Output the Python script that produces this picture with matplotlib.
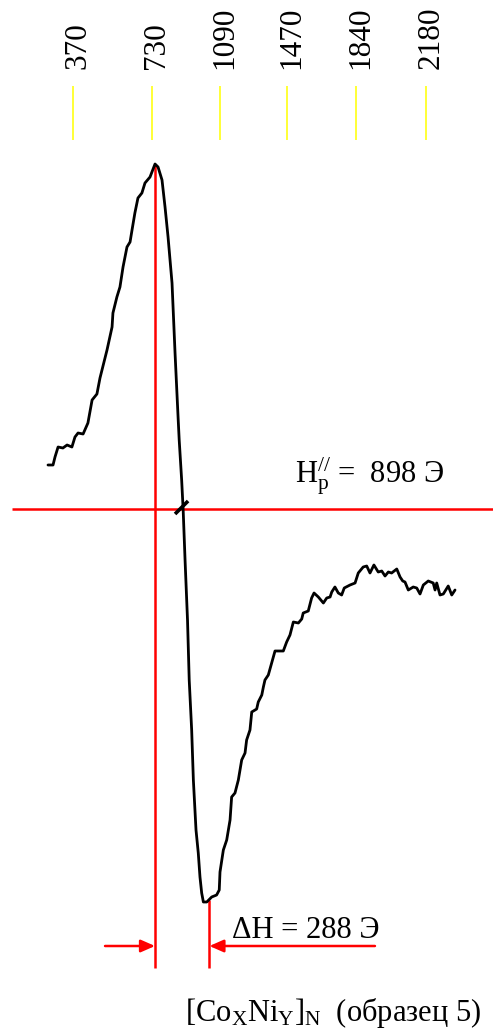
import numpy as np
import matplotlib
matplotlib.use("Agg")
import matplotlib.pyplot as plt
from matplotlib.scale import FuncScale

plt.rcParams['font.family'] = ['Liberation Serif', 'DejaVu Serif']
plt.rcParams['mathtext.fontset'] = 'custom'
plt.rcParams['mathtext.rm'] = 'Liberation Serif'
plt.rcParams['mathtext.it'] = 'Liberation Serif:italic'
plt.rcParams['mathtext.bf'] = 'Liberation Serif:bold'

# ---- data ----
tick_fields = [370, 730, 1090, 1470, 1840, 2180]
tick_labels = ["370", "730", "1090", "1470", "1840", "2180"]

field = [256, 279, 288, 302, 324, 343, 365, 379, 393, 416, 438, 457, 479, 493,
         525, 548, 552, 570, 584, 598, 616, 630, 639, 652, 666, 684, 698, 721,
         746, 762, 783, 799, 815, 836, 852, 868, 874, 887, 895, 905, 918, 927,
         940, 949, 963, 975, 984, 993, 1002, 1020, 1046, 1072, 1086, 1090, 1109,
         1128, 1147, 1156, 1175, 1194, 1213, 1232, 1241, 1260, 1270, 1298, 1307,
         1327, 1336, 1345, 1364, 1383, 1402, 1449, 1468, 1486, 1504, 1531, 1549,
         1557, 1584, 1602, 1615, 1638, 1665, 1683, 1701, 1710, 1727, 1745, 1763,
         1777, 1808, 1835, 1851, 1875, 1892, 1908, 1927, 1948, 1965, 1981, 1997,
         2013, 2038, 2054, 2067, 2078, 2094, 2118, 2135, 2151, 2167, 2191, 2215,
         2224, 2232, 2248, 2264, 2288, 2305, 2321]
signal = [44, 44, 52, 62, 61, 64, 62, 72, 76, 75, 86, 109, 115, 131,
          159, 182, 196, 212, 222, 242, 262, 267, 279, 296, 311, 316, 326, 332,
          345, 342, 329, 302, 272, 226, 156, 92, 69, 29, -1, -51, -111, -171,
          -221, -271, -321, -344, -368, -384, -393, -393, -388, -386, -381, -363, -341,
          -331, -311, -288, -284, -271, -251, -244, -231, -221, -203, -200, -193,
          -186, -178, -171, -166, -154, -142, -142, -133, -126, -113, -114, -110,
          -104, -102, -89, -84, -88, -94, -89, -88, -83, -78, -84, -86,
          -79, -76, -74, -64, -58, -57, -64, -56, -63, -62, -67, -63,
          -64, -60, -68, -72, -73, -81, -78, -79, -85, -76, -72, -74,
          -81, -74, -86, -85, -77, -86, -81]

H_res = 898      # resonance field, Oe
dH = 288         # linewidth, Oe
res_label = "H$_\\mathrm{p}^{//}$ =  898 Э"
dh_label = "ΔH = 288 Э"
sample_label = "[Co$_\\mathrm{X}$Ni$_\\mathrm{Y}$]$_\\mathrm{N}$  (образец 5)"

# ---- irregular field scale (tick marks are not evenly spaced in the original) ----
_tf = np.array([370., 730., 1090., 1470., 1840., 2180.])
_tp = np.array([73., 152., 220., 287., 356., 426.])


def _pw(x, xs, ys):
    x = np.asarray(x, dtype=float)
    shp = x.shape
    x = np.atleast_1d(x).copy()
    out = np.interp(x, xs, ys)
    lo = x < xs[0]
    hi = x > xs[-1]
    out[lo] = ys[0] + (x[lo] - xs[0]) * (ys[1] - ys[0]) / (xs[1] - xs[0])
    out[hi] = ys[-1] + (x[hi] - xs[-1]) * (ys[-1] - ys[-2]) / (xs[-1] - xs[-2])
    return out.reshape(shp)


def fwd(x):
    return _pw(x, _tf, _tp)


def inv(x):
    return _pw(x, _tp, _tf)


fig = plt.figure(figsize=(4.93, 10.30), dpi=100)
ax = fig.add_axes([0, 0, 1, 1])
ax.set_xscale(FuncScale(ax.xaxis, (fwd, inv)))
ax.set_xlim(inv(0.0), inv(493.0))
ax.set_ylim(-521, 509)
ax.axis('off')

# curve
ax.plot(field, signal, color='black', lw=2.0, solid_joinstyle='round',
        solid_capstyle='round', zorder=3)

# tick labels and yellow marks
for f, lab in zip(tick_fields, tick_labels):
    ax.vlines(f, 369, 423, color='#ffff00', lw=1.1, zorder=1)
    ax.annotate(lab, xy=(f, 440), xytext=(3.5, 0), textcoords='offset points',
                rotation=90, ha='center', va='bottom', fontsize=22.5)

# peak position
i_pk = int(np.argmax(signal))
H_pk = field[i_pk]
H_pk2 = H_pk + dH
s_min = min(signal)

# red construction lines
ax.hlines(0, 92, 2600, color='#ff0000', lw=1.8, zorder=2)
ax.vlines(H_pk, -459, signal[i_pk], color='#ff0000', lw=1.8, zorder=2)
ax.vlines(H_pk2, -459, s_min + 2, color='#ff0000', lw=1.8, zorder=2)

arrow_style = '-|>,head_length=0.5,head_width=0.22'
ax.annotate('', xy=(H_pk, -437), xytext=(516, -437),
            arrowprops=dict(arrowstyle=arrow_style, color='#ff0000', lw=1.8,
                            mutation_scale=17, shrinkA=0, shrinkB=0))
ax.annotate('', xy=(H_pk2, -437), xytext=(1932, -437),
            arrowprops=dict(arrowstyle=arrow_style, color='#ff0000', lw=1.8,
                            mutation_scale=17, shrinkA=0, shrinkB=0))

# crossing mark
ax.plot([852, 921], [-5, 8], color='black', lw=2.6, solid_capstyle='butt', zorder=4)

# texts
ax.text(1513, 27, res_label, fontsize=22, ha='left', va='baseline')
ax.text(1156, -429, dh_label, fontsize=22, ha='left', va='baseline')
ax.text(905, -512, sample_label, fontsize=22, ha='left', va='baseline')

fig.savefig('out.png', dpi=100, facecolor='white')
